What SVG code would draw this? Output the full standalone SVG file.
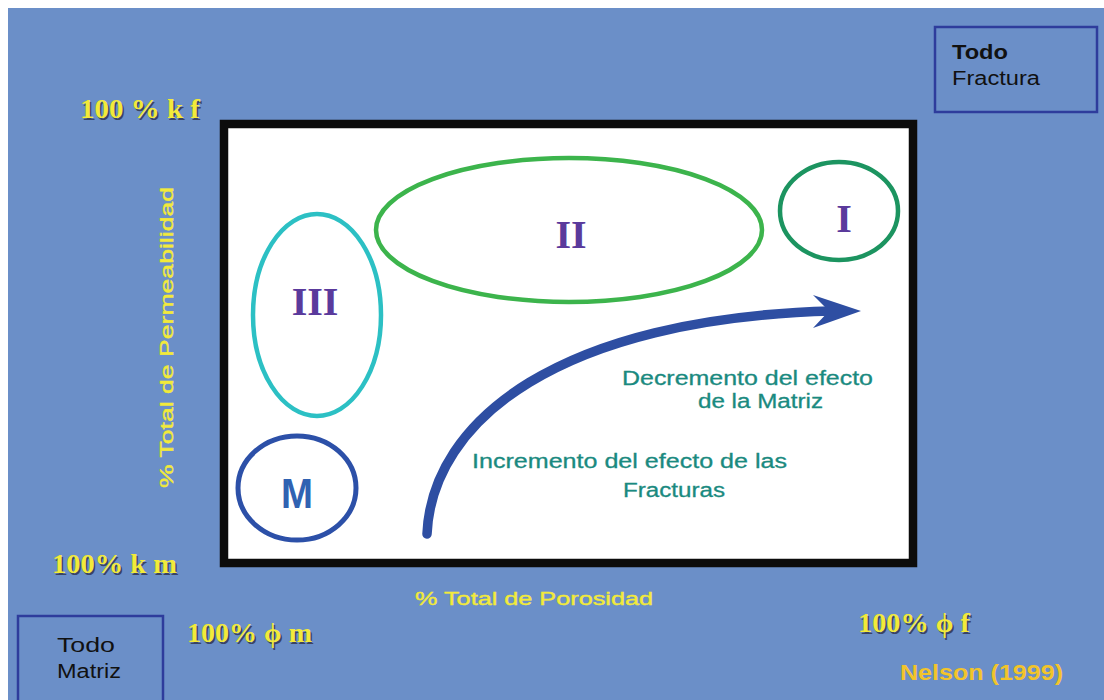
<svg xmlns="http://www.w3.org/2000/svg" width="1104" height="700" viewBox="0 0 1104 700">
<style>
.ax{font-family:"Liberation Serif","Times New Roman",serif;font-weight:bold;font-size:27px;fill:#f2ea3a}
.sh{font-family:"Liberation Serif","Times New Roman",serif;font-weight:bold;font-size:27px;fill:#2a2a40;opacity:0.75}
.lab{font-family:"Liberation Sans",Arial,sans-serif;font-size:19px;fill:#f2ea3a;stroke:#f2ea3a;stroke-width:0.4}
.note{font-family:"Liberation Sans",Arial,sans-serif;font-size:20px;fill:#1a8a80;stroke:#1a8a80;stroke-width:0.3}
.rom{font-family:"Liberation Serif","Times New Roman",serif;font-weight:bold;font-size:40px;fill:#5a3a9c;text-anchor:middle}
.box{fill:none;stroke:#2e3c9c;stroke-width:2.5}
.bt{font-family:"Liberation Sans",Arial,sans-serif;font-size:20px;fill:#111}
</style>
<rect x="0" y="0" width="1104" height="700" fill="#ffffff"/>
<rect x="8" y="8" width="1096" height="692" fill="#6b8fc8"/>

<g id="plot">
<rect x="224" y="124" width="689" height="439" fill="#ffffff" stroke="#0c0c0c" stroke-width="8.5"/>
</g>

<g id="region-II">
<ellipse cx="569" cy="230" rx="193" ry="72" fill="none" stroke="#3cb44c" stroke-width="4.5"/>
<text class="rom" x="571" y="248">II</text>
</g>
<g id="region-I">
<ellipse cx="839" cy="211" rx="59" ry="49" fill="none" stroke="#1c9460" stroke-width="4.5"/>
<text class="rom" x="844" y="232">I</text>
</g>
<g id="region-III">
<ellipse cx="317" cy="315" rx="64" ry="101" fill="none" stroke="#2cc0c4" stroke-width="4.5"/>
<text class="rom" x="315" y="315">III</text>
</g>
<g id="region-M">
<ellipse cx="297" cy="488" rx="59" ry="52" fill="none" stroke="#2c50a8" stroke-width="5"/>
<text x="297" y="508" text-anchor="middle" font-family="Liberation Sans,Arial,sans-serif" font-weight="bold" font-size="42" fill="#3062b2" textLength="32" lengthAdjust="spacingAndGlyphs">M</text>
</g>

<g id="connectors">
<path d="M427,534 C432,420 560,318 832,311" fill="none" stroke="#2e4ea2" stroke-width="9.5" stroke-linecap="round"/>
<polygon points="861,311 813,295 829,311 813,328" fill="#2e4ea2"/>
</g>

<g id="notes">
<text class="note" x="622" y="385" textLength="251" lengthAdjust="spacingAndGlyphs">Decremento del efecto</text>
<text class="note" x="698" y="408" textLength="125" lengthAdjust="spacingAndGlyphs">de la Matriz</text>
<text class="note" x="472" y="468" textLength="315" lengthAdjust="spacingAndGlyphs">Incremento del efecto de las</text>
<text class="note" x="623" y="497" textLength="102" lengthAdjust="spacingAndGlyphs">Fracturas</text>
</g>

<g id="axis-labels">
<text class="sh" x="81.5" y="119.5" textLength="120" lengthAdjust="spacingAndGlyphs">100 % k f</text>
<text class="ax" x="80" y="118" textLength="120" lengthAdjust="spacingAndGlyphs">100 % k f</text>
<text class="sh" x="53.5" y="574.5" textLength="125" lengthAdjust="spacingAndGlyphs">100% k m</text>
<text class="ax" x="52" y="573" textLength="125" lengthAdjust="spacingAndGlyphs">100% k m</text>
<text class="sh" x="188.5" y="643.5" textLength="125" lengthAdjust="spacingAndGlyphs">100% ϕ m</text>
<text class="ax" x="187" y="642" textLength="125" lengthAdjust="spacingAndGlyphs">100% ϕ m</text>
<text class="sh" x="859.5" y="633.5" textLength="112" lengthAdjust="spacingAndGlyphs">100% ϕ f</text>
<text class="ax" x="858" y="632" textLength="112" lengthAdjust="spacingAndGlyphs">100% ϕ f</text>
<text class="lab" x="415" y="605" textLength="238" lengthAdjust="spacingAndGlyphs">% Total de Porosidad</text>
<text class="lab" transform="translate(173,488) rotate(-90)" x="0" y="0" textLength="301" lengthAdjust="spacingAndGlyphs">% Total de Permeabilidad</text>
<text x="900" y="680" font-family="Liberation Sans,Arial,sans-serif" font-weight="bold" font-size="22" fill="#f2c42a" textLength="163" lengthAdjust="spacingAndGlyphs">Nelson (1999)</text>
</g>

<g id="todo-fractura">
<rect class="box" x="935" y="27" width="162" height="85"/>
<text class="bt" x="952" y="59" font-weight="bold" textLength="56" lengthAdjust="spacingAndGlyphs">Todo</text>
<text class="bt" x="952" y="85" textLength="88" lengthAdjust="spacingAndGlyphs">Fractura</text>
</g>
<g id="todo-matriz">
<rect class="box" x="18" y="616" width="145" height="90"/>
<text class="bt" x="57" y="652" textLength="58" lengthAdjust="spacingAndGlyphs">Todo</text>
<text class="bt" x="57" y="678" textLength="64" lengthAdjust="spacingAndGlyphs">Matriz</text>
</g>
</svg>
